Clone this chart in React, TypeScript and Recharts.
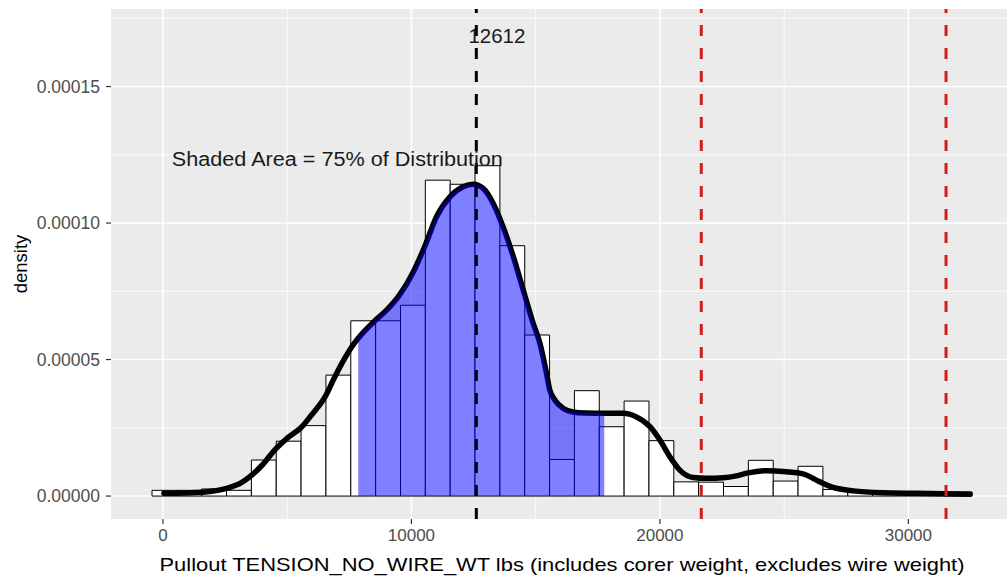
import {
  ComposedChart,
  Line,
  Area,
  XAxis,
  YAxis,
  CartesianGrid,
  ReferenceArea,
  ReferenceLine,
  ReferenceDot,
  Label,
} from "recharts";

const FONT = "'Liberation Sans', Arial, sans-serif";

// histogram: left edge of each bin and its density (bin width 1000 lbs)
const binLeft = [
  -440, 560, 1560, 2560, 3560, 4560, 5560, 6560, 7560, 8560, 9560, 10560,
  11560, 12560, 13560, 14560, 15560, 16560, 17560, 18560, 19560, 20560, 21560,
  22560, 23560, 24560, 25560, 26560, 27560, 28560, 29560, 30560, 31560,
];
const binDensity = [
  0.0000021, 0.0000021, 0.0000026, 0.0000021, 0.0000132, 0.0000201, 0.0000258,
  0.0000443, 0.0000642, 0.0000642, 0.0000699, 0.0001157, 0.0001142, 0.000121,
  0.0000917, 0.000059, 0.0000134, 0.0000386, 0.0000254, 0.0000348, 0.0000203,
  0.0000052, 0.0000051, 0.0000035, 0.0000131, 0.0000055, 0.0000109, 0.0000024,
  0.0000015, 0.0000015, 0.0000015, 0.0000015, 0.0000015,
];
const binWidth = 1000;

// kernel density curve
const curveX = [
  40, 800, 1700, 2560, 3160, 3500, 3970, 4530, 5040, 5550, 5980, 6530, 6920,
  7320, 7600, 7860, 8130, 8530, 9000, 9510, 10080, 10540, 11010, 11550, 12080,
  12490, 12890, 13290, 13690, 14100, 14500, 14900, 15170, 15410, 15570, 15770,
  16100, 16500, 17000, 17760, 18530, 19050, 19600, 20000, 20400, 20800, 21340,
  21880, 22550, 23080, 23550, 24290, 25090, 25760, 26440, 26970, 27780, 28980,
  30330, 32480,
];
const curveDensity = [
  0.000001, 0.0000011, 0.0000015, 0.0000028, 0.0000049, 0.0000071, 0.0000111,
  0.0000172, 0.0000215, 0.000025, 0.0000297, 0.0000364, 0.0000437, 0.0000505,
  0.0000547, 0.0000578, 0.0000606, 0.0000642, 0.0000681, 0.0000735, 0.0000822,
  0.0000915, 0.0001023, 0.0001096, 0.0001133, 0.0001142, 0.0001127, 0.0001072,
  0.0000986, 0.0000877, 0.0000755, 0.0000633, 0.000056, 0.0000462, 0.0000388,
  0.0000352, 0.0000322, 0.0000308, 0.0000304, 0.0000303, 0.0000303, 0.000029,
  0.0000254, 0.0000205, 0.0000144, 0.0000095, 0.0000068, 0.0000065, 0.0000067,
  0.0000074, 0.0000085, 0.0000093, 0.0000089, 0.0000081, 0.0000052, 0.0000032,
  0.0000019, 0.0000012, 0.000001, 0.0000007,
];

const shadeFrom = 7860;
const shadeTo = 17760;
const meanValue = 12612;
const redLines = [21665, 31515];

const xTicks = [0, 10000, 20000, 30000];
const xMinor = [5000, 15000, 25000];
const yTicks = [0, 0.00005, 0.0001, 0.00015];
const yMinor = [0.000025, 0.000075, 0.000125, 0.000175];

const curveData = curveX.map((x, i) => ({
  x,
  dens: curveDensity[i],
  shade: x >= shadeFrom && x <= shadeTo ? curveDensity[i] : null,
}));

const textAt =
  (text: string, size: number, length: number) =>
  ({ viewBox }: any) =>
    (
      <text
        x={viewBox.x + viewBox.width / 2}
        y={viewBox.y + viewBox.height / 2}
        dy="0.36em"
        textAnchor="middle"
        fontSize={size}
        fontFamily={FONT}
        fill="#1A1A1A"
        textLength={length}
        lengthAdjust="spacingAndGlyphs"
      >
        {text}
      </text>
    );

const xTitle = ({ viewBox }: any) => (
  <text
    x={viewBox.x + viewBox.width / 2}
    y={viewBox.y + 52}
    textAnchor="middle"
    fontSize={19}
    fontFamily={FONT}
    fill="#000"
    textLength={805}
    lengthAdjust="spacingAndGlyphs"
  >
    Pullout TENSION_NO_WIRE_WT lbs (includes corer weight, excludes wire weight)
  </text>
);

const yTitle = ({ viewBox }: any) => {
  const cx = 20;
  const cy = viewBox.y + viewBox.height / 2;
  return (
    <text
      x={cx}
      y={cy}
      dy="0.36em"
      textAnchor="middle"
      fontSize={18.5}
      fontFamily={FONT}
      fill="#000"
      transform={`rotate(-90 ${cx} ${cy})`}
    >
      density
    </text>
  );
};

export default function App() {
  return (
    <div
      style={{
        position: "absolute",
        left: 0,
        top: 0,
        width: 1007,
        height: 577,
        overflow: "hidden",
        background: "#fff",
      }}
    >
      <ComposedChart
        width={1020}
        height={577}
        data={curveData}
        margin={{ top: 9, right: 7, bottom: 0, left: 0 }}
      >
        <CartesianGrid
          fill="#EBEBEB"
          stroke="#fff"
          strokeWidth={0.8}
          verticalValues={xMinor}
          horizontalValues={yMinor}
        />
        <CartesianGrid
          stroke="#fff"
          strokeWidth={1.6}
          verticalValues={xTicks}
          horizontalValues={yTicks}
        />
        <XAxis
          type="number"
          dataKey="x"
          domain={[-2090, 34210]}
          ticks={xTicks}
          allowDataOverflow
          height={58}
          axisLine={false}
          tickSize={5}
          tickMargin={5}
          tickLine={{ stroke: "#333", strokeWidth: 1.2 }}
          tick={{ fill: "#4D4D4D", fontSize: 17, fontFamily: FONT }}
        >
          <Label content={xTitle} />
        </XAxis>
        <YAxis
          type="number"
          domain={[-0.0000084, 0.0001784]}
          ticks={yTicks}
          allowDataOverflow
          width={111}
          axisLine={false}
          tickSize={5}
          tickMargin={6}
          tickFormatter={(v: number) => v.toFixed(5)}
          tickLine={{ stroke: "#333", strokeWidth: 1.2 }}
          tick={{ fill: "#4D4D4D", fontSize: 17.5, fontFamily: FONT }}
        >
          <Label content={yTitle} />
        </YAxis>

        {binLeft.map((lo, i) => (
          <ReferenceArea
            key={`bin-${i}`}
            x1={lo}
            x2={lo + binWidth}
            y1={0}
            y2={binDensity[i]}
            fill="#fff"
            fillOpacity={1}
            stroke="#000"
            strokeWidth={1}
            zIndex={100}
          />
        ))}

        <Line
          type="monotone"
          dataKey="dens"
          stroke="#000"
          strokeWidth={5.5}
          strokeLinecap="round"
          dot={false}
          activeDot={false}
          isAnimationActive={false}
          zIndex={150}
        />
        <Area
          type="monotone"
          dataKey="shade"
          stroke="none"
          fill="#0000FF"
          fillOpacity={0.5}
          baseValue={0}
          dot={false}
          activeDot={false}
          isAnimationActive={false}
          zIndex={200}
        />

        <ReferenceLine
          x={meanValue}
          stroke="#000"
          strokeWidth={3}
          strokeDasharray="11 12"
          zIndex={400}
        />
        {redLines.map((v) => (
          <ReferenceLine
            key={v}
            x={v}
            stroke="#D41C1C"
            strokeWidth={3}
            strokeDasharray="11 12"
            zIndex={400}
          />
        ))}

        <ReferenceDot
          x={13440}
          y={0.0001685}
          r={1}
          fill="none"
          stroke="none"
          zIndex={600}
          label={{ content: textAt("12612", 20, 57) }}
        />
        <ReferenceDot
          x={7020}
          y={0.0001236}
          r={1}
          fill="none"
          stroke="none"
          zIndex={600}
          label={{ content: textAt("Shaded Area = 75% of Distribution", 20, 331) }}
        />
      </ComposedChart>
    </div>
  );
}
